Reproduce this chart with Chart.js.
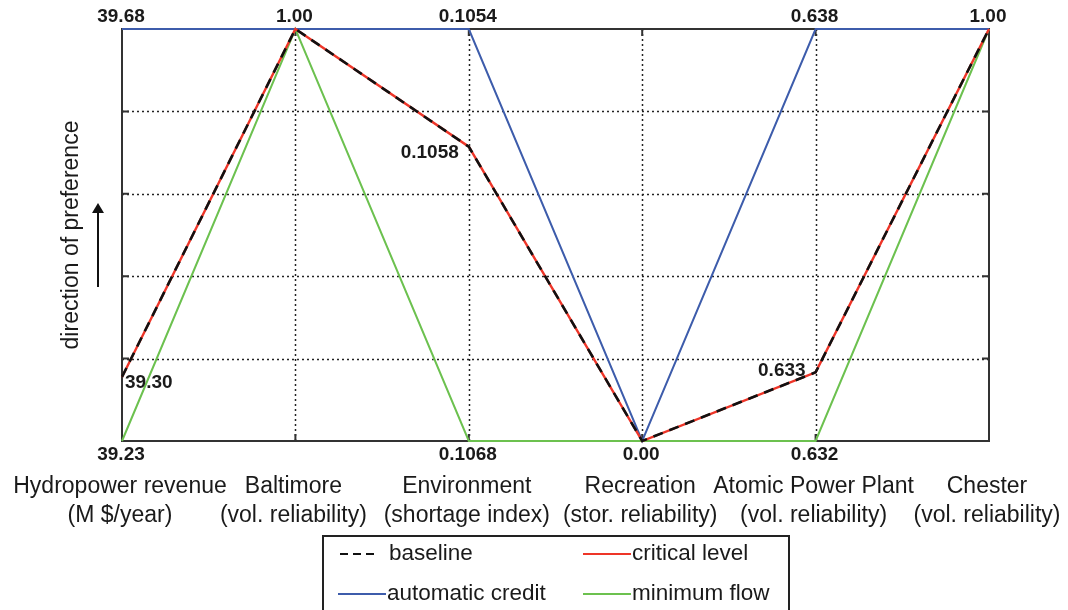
<!DOCTYPE html>
<html>
<head>
<meta charset="utf-8">
<script src="https://cdn.jsdelivr.net/npm/chart.js@4.4.1/dist/chart.umd.min.js"></script>
<style>
  html, body { margin: 0; padding: 0; background: #fff; }
  #wrap { width: 1068px; height: 610px; position: relative; }
</style>
</head>
<body>
<div id="wrap"><canvas id="c" width="1068" height="610"></canvas></div>
<script>
// Objectives (parallel axes), two-line labels
const axisNames = ['Hydropower revenue', 'Baltimore', 'Environment', 'Recreation', 'Atomic Power Plant', 'Chester'];
const axisUnits = ['(M $/year)', '(vol. reliability)', '(shortage index)', '(stor. reliability)', '(vol. reliability)', '(vol. reliability)'];

// Axis range: value at the bottom (worst) and top (best) of each axis; null = not labelled
const axisLow  = [39.23, null, 0.1068, 0.00, 0.632, null];
const axisHigh = [39.68, 1.00, 0.1054, null, 0.638, 1.00];
const axisLowText  = ['39.23', null, '0.1068', '0.00', '0.632', null];
const axisHighText = ['39.68', '1.00', '0.1054', null, '0.638', '1.00'];

// Policies, raw objective values
const baseline         = [39.30, 1.00, 0.1058, 0.00, 0.633, 1.00];
const criticalLevel    = [39.30, 1.00, 0.1058, 0.00, 0.633, 1.00];
const automaticCredit  = [39.68, 1.00, 0.1054, 0.00, 0.638, 1.00];
const minimumFlow      = [39.23, 1.00, 0.1068, 0.00, 0.632, 1.00];

// Inline value annotations for the baseline policy
const baselineNotes = [
  { axis: 0, text: '39.30', align: 'left',  dx: 3,  dy: 6 },
  { axis: 2, text: '0.1058', align: 'right', dx: -10, dy: 6 },
  { axis: 4, text: '0.633', align: 'right', dx: -10, dy: -2 }
];

function normalize(v, i) {
  const lo = axisLow[i], hi = axisHigh[i];
  if (lo === null) return v >= hi ? 1 : 0;
  if (hi === null) return v <= lo ? 0 : 1;
  return (v - lo) / (hi - lo);
}
const norm = arr => arr.map(normalize);

const FONT = '"Liberation Sans", Arial, Helvetica, sans-serif';
const BLACK = '#111111';
const RED = '#ee3528';
const BLUE = '#3d5cab';
const GREEN = '#6cc14f';

// Frame, dotted grid, tick marks, text and legend
const framePlugin = {
  id: 'frame',
  beforeDatasetsDraw(chart) {
    const { ctx, chartArea: a, scales: { x, y } } = chart;
    ctx.save();
    ctx.strokeStyle = '#222';
    ctx.lineWidth = 1.5;
    ctx.setLineDash([2, 3]);
    for (let v = 0.2; v < 0.99; v += 0.2) {
      const py = Math.round(y.getPixelForValue(v)) + 0.5;
      ctx.beginPath(); ctx.moveTo(a.left, py); ctx.lineTo(a.right, py); ctx.stroke();
    }
    for (let i = 1; i < axisNames.length - 1; i++) {
      const px = Math.round(x.getPixelForValue(i)) + 0.5;
      ctx.beginPath(); ctx.moveTo(px, a.top); ctx.lineTo(px, a.bottom); ctx.stroke();
    }
    ctx.setLineDash([]);
    ctx.strokeStyle = '#333';
    ctx.lineWidth = 2;
    ctx.strokeRect(a.left, a.top, a.right - a.left, a.bottom - a.top);
    ctx.beginPath();
    for (let v = 0.2; v < 0.99; v += 0.2) {
      const py = y.getPixelForValue(v);
      ctx.moveTo(a.left, py); ctx.lineTo(a.left + 7, py);
      ctx.moveTo(a.right, py); ctx.lineTo(a.right - 7, py);
    }
    for (let i = 1; i < axisNames.length - 1; i++) {
      const px = x.getPixelForValue(i);
      ctx.moveTo(px, a.top); ctx.lineTo(px, a.top + 7);
      ctx.moveTo(px, a.bottom); ctx.lineTo(px, a.bottom - 7);
    }
    ctx.stroke();
    ctx.restore();
  },
  afterDraw(chart) {
    const { ctx, chartArea: a, scales: { x, y } } = chart;
    ctx.save();
    ctx.fillStyle = '#1a1a1a';
    ctx.font = 'bold 19px ' + FONT;
    ctx.textAlign = 'center';
    ctx.textBaseline = 'middle';
    for (let i = 0; i < axisNames.length; i++) {
      const px = x.getPixelForValue(i);
      if (axisHighText[i]) ctx.fillText(axisHighText[i], px - 1, a.top - 12);
      if (axisLowText[i]) ctx.fillText(axisLowText[i], px - 1, a.bottom + 14);
    }
    baselineNotes.forEach(n => {
      const px = x.getPixelForValue(n.axis);
      const py = y.getPixelForValue(normalize(baseline[n.axis], n.axis));
      ctx.textAlign = n.align;
      ctx.fillText(n.text, px + n.dx, py + n.dy);
    });
    ctx.font = '23px ' + FONT;
    ctx.textAlign = 'center';
    for (let i = 0; i < axisNames.length; i++) {
      const px = x.getPixelForValue(i);
      ctx.fillText(axisNames[i], px - 2, a.bottom + 46);
      ctx.fillText(axisUnits[i], px - 2, a.bottom + 75);
    }
    ctx.save();
    ctx.translate(72, 235);
    ctx.rotate(-Math.PI / 2);
    ctx.fillText('direction of preference', 0, 0);
    ctx.restore();
    ctx.strokeStyle = '#111';
    ctx.lineWidth = 2;
    ctx.beginPath(); ctx.moveTo(98, 287); ctx.lineTo(98, 208); ctx.stroke();
    ctx.beginPath(); ctx.moveTo(98, 203); ctx.lineTo(92, 213); ctx.lineTo(104, 213); ctx.closePath();
    ctx.fillStyle = '#111'; ctx.fill();

    ctx.strokeStyle = '#222';
    ctx.lineWidth = 2;
    ctx.strokeRect(323, 536, 466, 80);
    ctx.font = '22.5px ' + FONT;
    ctx.textAlign = 'left';
    ctx.fillStyle = '#1a1a1a';
    const items = [
      { label: 'baseline', color: BLACK, dash: [8, 5], x1: 340, x2: 378, tx: 389, ty: 554 },
      { label: 'critical level', color: RED, dash: [], x1: 583, x2: 631, tx: 632, ty: 554 },
      { label: 'automatic credit', color: BLUE, dash: [], x1: 338, x2: 386, tx: 387, ty: 594 },
      { label: 'minimum flow', color: GREEN, dash: [], x1: 583, x2: 631, tx: 632, ty: 594 }
    ];
    items.forEach(it => {
      ctx.strokeStyle = it.color;
      ctx.lineWidth = 2;
      ctx.setLineDash(it.dash);
      ctx.beginPath(); ctx.moveTo(it.x1, it.ty); ctx.lineTo(it.x2, it.ty); ctx.stroke();
      ctx.setLineDash([]);
      ctx.fillText(it.label, it.tx, it.ty);
    });
    ctx.restore();
  }
};

new Chart(document.getElementById('c'), {
  type: 'line',
  data: {
    labels: axisNames,
    datasets: [
      { label: 'baseline', data: norm(baseline), borderColor: BLACK, borderWidth: 2.6, borderDash: [10, 7], order: 1 },
      { label: 'critical level', data: norm(criticalLevel), borderColor: RED, borderWidth: 2.4, order: 2 },
      { label: 'automatic credit', data: norm(automaticCredit), borderColor: BLUE, borderWidth: 2, order: 3 },
      { label: 'minimum flow', data: norm(minimumFlow), borderColor: GREEN, borderWidth: 2, order: 4 }
    ].map(d => Object.assign(d, { pointRadius: 0, tension: 0, fill: false, clip: 6 }))
  },
  options: {
    responsive: false,
    animation: false,
    events: [],
    layout: { padding: { left: 122, right: 79, top: 29, bottom: 169 } },
    plugins: { legend: { display: false }, tooltip: { enabled: false } },
    scales: {
      x: {
        type: 'category', offset: false,
        ticks: { display: false },
        grid: { display: false, drawTicks: false },
        border: { display: false }
      },
      y: {
        type: 'linear', min: 0, max: 1,
        ticks: { display: false },
        grid: { display: false, drawTicks: false },
        border: { display: false }
      }
    }
  },
  plugins: [framePlugin]
});
</script>
</body>
</html>
